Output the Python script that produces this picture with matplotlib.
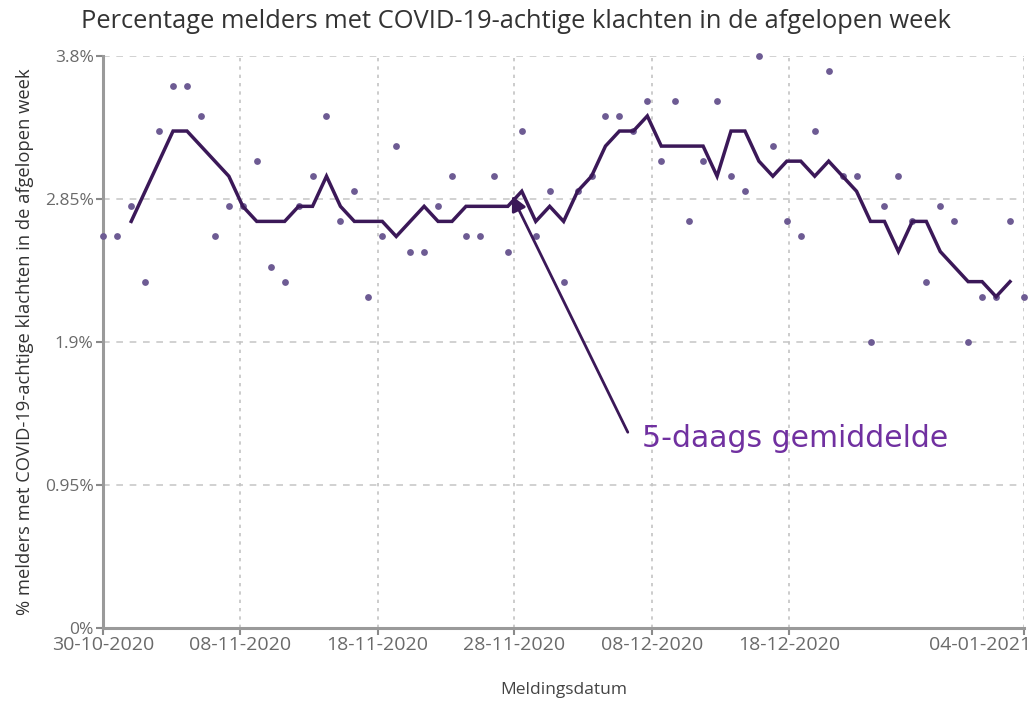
import matplotlib
matplotlib.use("Agg")
import matplotlib.pyplot as plt
from matplotlib.transforms import ScaledTranslation
import numpy as np

# ---- data ----
daily_pct = [2.6, 2.6, 2.8, 2.3, 3.3, 3.6, 3.6, 3.4, 2.6, 2.8,
             2.8, 3.1, 2.4, 2.3, 2.8, 3.0, 3.4, 2.7, 2.9, 2.2,
             2.6, 3.2, 2.5, 2.5, 2.8, 3.0, 2.6, 2.6, 3.0, 2.5,
             3.3, 2.6, 2.9, 2.3, 2.9, 3.0, 3.4, 3.4, 3.3, 3.5,
             3.1, 3.5, 2.7, 3.1, 3.5, 3.0, 2.9, 3.8, 3.2, 2.7,
             2.6, 3.3, 3.7, 3.0, 3.0, 1.9, 2.8, 3.0, 2.7, 2.3,
             2.8, 2.7, 1.9, 2.2, 2.2, 2.7, 2.2]
avg5_start = 2
avg5_pct = [2.7, 2.9, 3.1, 3.3, 3.3, 3.2, 3.1, 3.0, 2.8, 2.7,
            2.7, 2.7, 2.8, 2.8, 3.0, 2.8, 2.7, 2.7, 2.7, 2.6,
            2.7, 2.8, 2.7, 2.7, 2.8, 2.8, 2.8, 2.8, 2.9, 2.7,
            2.8, 2.7, 2.9, 3.0, 3.2, 3.3, 3.3, 3.4, 3.2, 3.2,
            3.2, 3.2, 3.0, 3.3, 3.3, 3.1, 3.0, 3.1, 3.1, 3.0,
            3.1, 3.0, 2.9, 2.7, 2.7, 2.5, 2.7, 2.7, 2.5, 2.4,
            2.3, 2.3, 2.2, 2.3]
x_tick_labels = ["30-10-2020", "08-11-2020", "18-11-2020", "28-11-2020",
                 "08-12-2020", "18-12-2020", "04-01-2021"]
y_ticks = [0, 0.95, 1.9, 2.85, 3.8]
y_tick_labels = ["0%", "0.95%", "1.9%", "2.85%", "3.8%"]

# ---- layout ----
x_tick_pos = [0, 9.8, 19.67, 29.46, 39.34, 49.16, 66]
days = np.arange(len(daily_pct))
avg_days = np.arange(avg5_start, avg5_start + len(avg5_pct))

plt.rcParams['font.family'] = ['Open Sans', 'DejaVu Sans']
fig = plt.figure(figsize=(10.32, 7.01), dpi=100)
ax = fig.add_axes([0.1001, 0.1041, 0.8921, 0.8164])

ax.set_xlim(0, 66)
ax.set_ylim(0, 3.8)

# grid
for yv in y_ticks[1:]:
    ax.axhline(yv, color='#c9c9c9', lw=1.2, ls=(0, (4, 4)), zorder=0)
for xv in x_tick_pos[1:]:
    ax.axvline(xv, color='#c4c4c4', lw=1.2, ls=(0, (2, 3)), zorder=0)

ax.scatter(days, daily_pct, s=24, color='#6d5b93', zorder=3, clip_on=False,
           linewidths=0)
ax.plot(avg_days, avg5_pct, color='#3b1858', lw=2.5, zorder=4,
        solid_joinstyle='miter')

ax.set_xticks(x_tick_pos)
ax.set_xticklabels(x_tick_labels)
ax.set_yticks(y_ticks)
ax.set_yticklabels(y_tick_labels)
ax.tick_params(axis='both', colors='#8a8a8a', labelcolor='#6a6a6a',
               length=5, width=1.5, direction='out')
ax.tick_params(axis='x', pad=1, labelsize=14)
ax.tick_params(axis='y', pad=2, labelsize=12.5)
last = ax.get_xticklabels()[-1]
last.set_horizontalalignment('right')
last.set_transform(last.get_transform() + ScaledTranslation(0.07, 0, fig.dpi_scale_trans))

for s in ['top', 'right']:
    ax.spines[s].set_visible(False)
for s in ['left', 'bottom']:
    ax.spines[s].set_color('#9a9a9a')
    ax.spines[s].set_linewidth(2.2)

ax.set_xlabel('Meldingsdatum', fontsize=12.5, color='#444444', labelpad=20)
ax.set_ylabel('% melders met COVID-19-achtige klachten in de afgelopen week',
              fontsize=13.2, color='#333333', labelpad=8)

fig.text(0.5, 0.969, 'Percentage melders met COVID-19-achtige klachten in de afgelopen week',
         ha='center', va='center', fontsize=18.4, color='#333333')

# annotation
ax.annotate('', xy=(29.3, 2.87), xytext=(37.6, 1.30),
            arrowprops=dict(arrowstyle='-|>', color='#3b1858', lw=2.0,
                            mutation_scale=22, shrinkA=0, shrinkB=0))
ax.text(38.6, 1.26, '5-daags gemiddelde', fontsize=21.5, color='#7030a0',
        family='DejaVu Sans', ha='left', va='center')

fig.savefig('out.png', dpi=100)
